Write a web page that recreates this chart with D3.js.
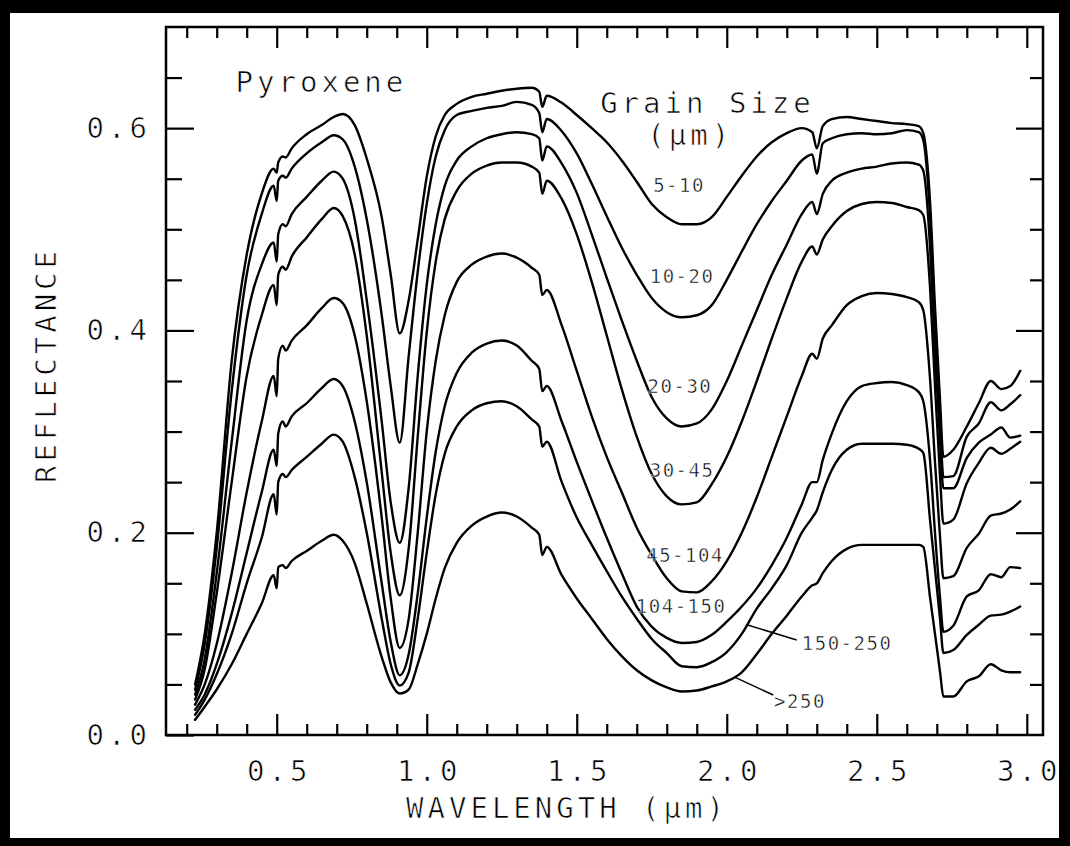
<!DOCTYPE html>
<html>
<head>
<meta charset="utf-8">
<script src="https://cdn.jsdelivr.net/npm/d3@7"></script>
<style>
  html, body { margin: 0; padding: 0; background: #000; }
  svg { display: block; }
</style>
</head>
<body>
<svg id="chart" width="1070" height="846"></svg>
<script>
// Wavelength samples (µm) shared by every spectrum
const wavelength = [
  0.228, 0.26, 0.30, 0.35, 0.40, 0.45, 0.49, 0.50, 0.505, 0.52,
  0.53, 0.55, 0.60, 0.65, 0.69, 0.72, 0.76, 0.80, 0.85, 0.88,
  0.91, 0.94, 0.97, 1.00, 1.03, 1.06, 1.10, 1.15, 1.20, 1.25,
  1.30, 1.35, 1.375, 1.385, 1.40, 1.45, 1.50, 1.55, 1.60, 1.65,
  1.70, 1.75, 1.80, 1.85, 1.90, 1.95, 2.00, 2.05, 2.10, 2.15,
  2.20, 2.25, 2.285, 2.30, 2.32, 2.35, 2.40, 2.45, 2.50, 2.55,
  2.60, 2.64, 2.655, 2.678, 2.694, 2.711, 2.722, 2.755, 2.80, 2.84,
  2.88, 2.915, 2.945, 2.978
];

// Grain-size classes (µm)
const grainSizes = ["5-10", "10-20", "20-30", "30-45", "45-104", "104-150", "150-250", ">250"];

// Reflectance for each grain-size class
const refl_5_10 = [
  0.050, 0.100, 0.200, 0.370, 0.475, 0.535, 0.560, 0.556, 0.566, 0.572,
  0.571, 0.580, 0.594, 0.603, 0.611, 0.614, 0.603, 0.570, 0.512, 0.455,
  0.397, 0.430, 0.490, 0.552, 0.592, 0.613, 0.624, 0.631, 0.634, 0.637,
  0.639, 0.640, 0.636, 0.621, 0.632, 0.625, 0.613, 0.600, 0.586, 0.568,
  0.547, 0.525, 0.512, 0.505, 0.505, 0.512, 0.532, 0.553, 0.572, 0.586,
  0.595, 0.600, 0.596, 0.580, 0.602, 0.609, 0.611, 0.609, 0.607, 0.605,
  0.604, 0.602, 0.595, 0.525, 0.423, 0.330, 0.275, 0.282, 0.305, 0.328,
  0.350, 0.342, 0.345, 0.360
];
const refl_10_20 = [
  0.045, 0.090, 0.185, 0.340, 0.455, 0.515, 0.543, 0.528, 0.548, 0.553,
  0.551, 0.560, 0.575, 0.586, 0.593, 0.589, 0.562, 0.510, 0.415, 0.345,
  0.289, 0.375, 0.458, 0.525, 0.572, 0.598, 0.613, 0.617, 0.620, 0.622,
  0.626, 0.623, 0.615, 0.596, 0.609, 0.597, 0.575, 0.545, 0.513, 0.482,
  0.455, 0.432, 0.418, 0.413, 0.415, 0.425, 0.450, 0.478, 0.505, 0.528,
  0.548, 0.568, 0.574, 0.555, 0.585, 0.590, 0.594, 0.595, 0.594, 0.595,
  0.598, 0.596, 0.588, 0.510, 0.410, 0.310, 0.255, 0.256, 0.295, 0.308,
  0.329, 0.321, 0.327, 0.336
];
const refl_20_30 = [
  0.040, 0.075, 0.160, 0.290, 0.410, 0.465, 0.487, 0.468, 0.495, 0.505,
  0.503, 0.515, 0.532, 0.548, 0.557, 0.550, 0.510, 0.430, 0.310, 0.230,
  0.190, 0.245, 0.355, 0.445, 0.505, 0.543, 0.568, 0.582, 0.590, 0.594,
  0.596, 0.594, 0.590, 0.568, 0.582, 0.565, 0.536, 0.495, 0.452, 0.410,
  0.370, 0.334, 0.313, 0.305, 0.308, 0.322, 0.350, 0.385, 0.420, 0.455,
  0.485, 0.515, 0.527, 0.515, 0.535, 0.548, 0.556, 0.560, 0.562, 0.565,
  0.566, 0.564, 0.558, 0.480, 0.380, 0.290, 0.244, 0.244, 0.274, 0.289,
  0.297, 0.304, 0.294, 0.296
];
const refl_30_45 = [
  0.035, 0.065, 0.140, 0.250, 0.355, 0.415, 0.445, 0.425, 0.455, 0.463,
  0.460, 0.473, 0.492, 0.510, 0.521, 0.513, 0.475, 0.395, 0.260, 0.180,
  0.138, 0.185, 0.295, 0.398, 0.468, 0.510, 0.538, 0.555, 0.563, 0.566,
  0.566, 0.562, 0.556, 0.535, 0.548, 0.530, 0.495, 0.448, 0.395, 0.342,
  0.295, 0.258, 0.236, 0.228, 0.230, 0.248, 0.275, 0.310, 0.350, 0.392,
  0.432, 0.468, 0.483, 0.475, 0.490, 0.503, 0.518, 0.525, 0.527, 0.526,
  0.522, 0.519, 0.514, 0.440, 0.345, 0.255, 0.209, 0.213, 0.249, 0.269,
  0.284, 0.278, 0.283, 0.290
];
const refl_45_104 = [
  0.030, 0.050, 0.090, 0.160, 0.240, 0.310, 0.355, 0.335, 0.372, 0.385,
  0.380, 0.390, 0.405, 0.422, 0.432, 0.427, 0.395, 0.330, 0.215, 0.135,
  0.086, 0.115, 0.200, 0.300, 0.370, 0.415, 0.448, 0.465, 0.473, 0.476,
  0.472, 0.462, 0.455, 0.435, 0.440, 0.405, 0.360, 0.315, 0.275, 0.240,
  0.205, 0.178, 0.155, 0.142, 0.141, 0.152, 0.172, 0.200, 0.235, 0.275,
  0.315, 0.355, 0.377, 0.372, 0.392, 0.405, 0.425, 0.434, 0.437, 0.436,
  0.433, 0.428, 0.420, 0.350, 0.270, 0.195, 0.155, 0.157, 0.185, 0.199,
  0.217, 0.219, 0.223, 0.231
];
const refl_104_150 = [
  0.025, 0.040, 0.070, 0.120, 0.180, 0.240, 0.282, 0.266, 0.298, 0.310,
  0.305, 0.315, 0.328, 0.343, 0.352, 0.345, 0.310, 0.250, 0.150, 0.092,
  0.059, 0.080, 0.140, 0.215, 0.280, 0.325, 0.358, 0.378, 0.387, 0.390,
  0.385, 0.370, 0.362, 0.340, 0.345, 0.310, 0.270, 0.232, 0.195, 0.160,
  0.127, 0.107, 0.096, 0.091, 0.092, 0.099, 0.112, 0.127, 0.145, 0.168,
  0.195, 0.228, 0.250, 0.250, 0.272, 0.298, 0.330, 0.345, 0.348, 0.349,
  0.346, 0.339, 0.330, 0.270, 0.200, 0.135, 0.102, 0.108, 0.137, 0.143,
  0.159, 0.156, 0.166, 0.165
];
const refl_150_250 = [
  0.020, 0.035, 0.060, 0.100, 0.150, 0.195, 0.238, 0.218, 0.250, 0.258,
  0.255, 0.262, 0.275, 0.288, 0.297, 0.290, 0.255, 0.200, 0.115, 0.070,
  0.049, 0.062, 0.115, 0.180, 0.238, 0.278, 0.305, 0.321, 0.328, 0.330,
  0.325, 0.312, 0.305, 0.285, 0.290, 0.250, 0.215, 0.188, 0.162, 0.137,
  0.115, 0.095, 0.081, 0.068, 0.067, 0.072, 0.082, 0.100, 0.125, 0.145,
  0.168, 0.200, 0.215, 0.222, 0.240, 0.262, 0.282, 0.288, 0.288, 0.288,
  0.287, 0.283, 0.279, 0.211, 0.164, 0.114, 0.081, 0.084, 0.099, 0.109,
  0.118, 0.119, 0.122, 0.127
];
const refl_gt250 = [
  0.015, 0.028, 0.045, 0.070, 0.100, 0.130, 0.158, 0.145, 0.166, 0.168,
  0.165, 0.172, 0.182, 0.192, 0.198, 0.192, 0.170, 0.130, 0.077, 0.052,
  0.041, 0.045, 0.070, 0.100, 0.135, 0.165, 0.190, 0.207, 0.216, 0.220,
  0.216, 0.205, 0.198, 0.178, 0.186, 0.158, 0.135, 0.115, 0.095, 0.078,
  0.064, 0.054, 0.047, 0.043, 0.044, 0.048, 0.053, 0.062, 0.080, 0.100,
  0.118, 0.137, 0.148, 0.150, 0.160, 0.172, 0.184, 0.188, 0.188, 0.188,
  0.188, 0.188, 0.186, 0.135, 0.100, 0.062, 0.038, 0.038, 0.053, 0.058,
  0.070, 0.064, 0.062, 0.062
];

// Axis tick values and labels
const xMajorTicks = [0.5, 1.0, 1.5, 2.0, 2.5, 3.0];
const xMinorTicks = [0.2, 0.3, 0.4, 0.6, 0.7, 0.8, 0.9, 1.1, 1.2, 1.3, 1.4, 1.6, 1.7, 1.8, 1.9,
                     2.1, 2.2, 2.3, 2.4, 2.6, 2.7, 2.8, 2.9];
const yMajorTicks = [0.0, 0.2, 0.4, 0.6];
const yMinorTicks = [0.05, 0.1, 0.15, 0.25, 0.3, 0.35, 0.45, 0.5, 0.55, 0.65];

const series = [refl_5_10, refl_10_20, refl_20_30, refl_30_45,
                refl_45_104, refl_104_150, refl_150_250, refl_gt250]
  .map((vals, i) => ({ name: grainSizes[i], points: wavelength.map((w, j) => [w, vals[j]]) }));

// ---- drawing ----
const W = 1070, H = 846;
const svg = d3.select("#chart");
const FONT = "'DejaVu Sans Mono', 'Liberation Mono', monospace";

// thin pen-plotter look for lettering: a hairline white outline trims the glyph strokes
function pen(sel, ls) {
  sel.attr("font-family", FONT).attr("fill", "#000")
     .attr("stroke", "#fff").attr("stroke-width", 0.7)
     .style("letter-spacing", ls);
  return sel;
}

// black border around a white sheet
svg.append("rect").attr("width", W).attr("height", H).attr("fill", "#000");
svg.append("rect").attr("x", 10).attr("y", 13).attr("width", 1049).attr("height", 825).attr("fill", "#fff");

const plot = { left: 166, right: 1043, top: 27, bottom: 735 };
const x = d3.scaleLinear().domain([0.131, 3.054]).range([plot.left, plot.right]);
const y = d3.scaleLinear().domain([0, 0.7]).range([plot.bottom, plot.top]);

function styleAxis(g) {
  g.select(".domain").remove();
  g.selectAll(".tick line").attr("stroke", "#000").attr("stroke-width", 2.2);
  g.attr("font-size", 29);
  pen(g.selectAll("text"), "4px");
}

// inward ticks on all four sides
const fmt = d3.format(".1f");
svg.append("g").attr("transform", `translate(0,${plot.bottom})`)
  .call(d3.axisBottom(x).tickValues(xMinorTicks).tickSize(-11).tickFormat("")).call(styleAxis);
svg.append("g").attr("transform", `translate(0,${plot.bottom})`)
  .call(d3.axisBottom(x).tickValues(xMajorTicks).tickSize(-21).tickPadding(25).tickFormat(fmt)).call(styleAxis)
  .selectAll("text").attr("dx", "2px");
svg.append("g").attr("transform", `translate(0,${plot.top})`)
  .call(d3.axisTop(x).tickValues(xMinorTicks).tickSize(-11).tickFormat("")).call(styleAxis);
svg.append("g").attr("transform", `translate(0,${plot.top})`)
  .call(d3.axisTop(x).tickValues(xMajorTicks).tickSize(-21).tickFormat("")).call(styleAxis);

svg.append("g").attr("transform", `translate(${plot.left},0)`)
  .call(d3.axisLeft(y).tickValues(yMinorTicks).tickSize(-16).tickFormat("")).call(styleAxis);
svg.append("g").attr("transform", `translate(${plot.left},0)`)
  .call(d3.axisLeft(y).tickValues(yMajorTicks).tickSize(-28).tickPadding(15).tickFormat(fmt)).call(styleAxis);
svg.append("g").attr("transform", `translate(${plot.right},0)`)
  .call(d3.axisRight(y).tickValues(yMinorTicks).tickSize(-13).tickFormat("")).call(styleAxis);
svg.append("g").attr("transform", `translate(${plot.right},0)`)
  .call(d3.axisRight(y).tickValues(yMajorTicks.filter(v => v > 0)).tickSize(-27).tickFormat("")).call(styleAxis);

// plot frame
svg.append("rect")
  .attr("x", plot.left).attr("y", plot.top)
  .attr("width", plot.right - plot.left).attr("height", plot.bottom - plot.top)
  .attr("fill", "none").attr("stroke", "#000").attr("stroke-width", 2.5);

// spectra
const line = d3.line().x(d => x(d[0])).y(d => y(d[1])).curve(d3.curveMonotoneX);
svg.append("g").selectAll("path").data(series).join("path")
  .attr("d", d => line(d.points))
  .attr("fill", "none").attr("stroke", "#000")
  .attr("stroke-width", 2.4).attr("stroke-linejoin", "round").attr("stroke-linecap", "round");

// axis titles
pen(svg.append("text").attr("x", 567).attr("y", 818)
  .attr("text-anchor", "middle").attr("font-size", 29), "4px").text("WAVELENGTH (µm)");
pen(svg.append("text").attr("transform", "translate(56,365) rotate(-90)")
  .attr("text-anchor", "middle").attr("font-size", 29), "4px").text("REFLECTANCE");

// in-plot titles
const big = (t, px, py) => pen(svg.append("text").attr("x", px).attr("y", py)
  .attr("font-size", 29), "4px").text(t);
big("Pyroxene", x(0.363), y(0.636));
big("Grain Size", x(1.578), y(0.615));
big("(µm)", x(1.735), y(0.583));

// grain-size labels, anchored in data units
const labelAt = {
  "5-10": [1.841, 0.537], "10-20": [1.851, 0.447], "20-30": [1.844, 0.338],
  "30-45": [1.851, 0.255], "45-104": [1.861, 0.171], "104-150": [1.848, 0.121],
  "150-250": [2.401, 0.084], ">250": [2.244, 0.027]
};
pen(svg.append("g").selectAll("text").data(grainSizes).join("text")
  .attr("x", d => x(labelAt[d][0])).attr("y", d => y(labelAt[d][1]))
  .attr("text-anchor", "middle").attr("font-size", 19), "1.5px")
  .attr("stroke-width", 0.5).text(d => d);

// leader lines for the two lowest classes
const leaders = [[[2.067, 0.109], [2.233, 0.094]], [[2.028, 0.057], [2.155, 0.0395]]];
svg.append("g").selectAll("path").data(leaders).join("path")
  .attr("d", d => d3.line().x(p => x(p[0])).y(p => y(p[1]))(d))
  .attr("stroke", "#000").attr("stroke-width", 1.5).attr("fill", "none");
</script>
</body>
</html>
